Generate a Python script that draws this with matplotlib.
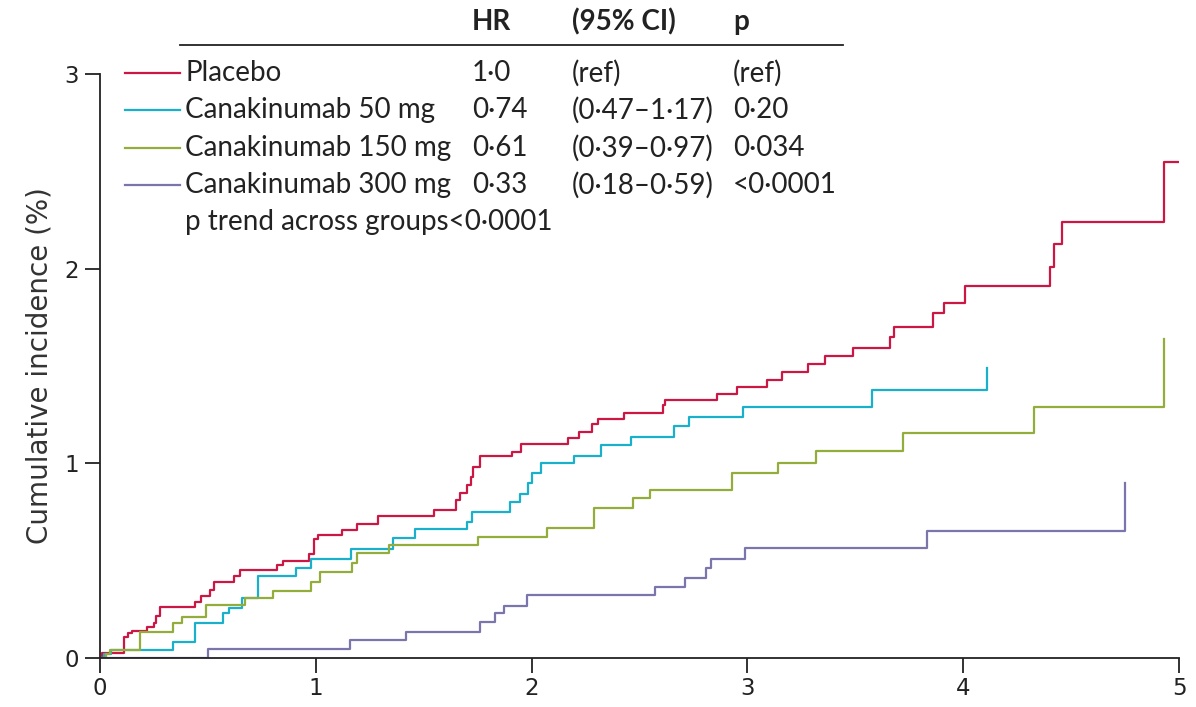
import matplotlib
matplotlib.use("Agg")
import matplotlib.pyplot as plt
from matplotlib.lines import Line2D

# years of follow-up / cumulative incidence (%) at each step
placebo_t = [0, 0.01, 0.11, 0.13, 0.15, 0.22, 0.25, 0.26, 0.28, 0.44, 0.47, 0.51, 0.53, 0.62, 0.65,
             0.82, 0.85, 0.97, 0.99, 1.01, 1.12, 1.19, 1.29, 1.55, 1.65, 1.67, 1.70, 1.72, 1.73, 1.76,
             1.91, 1.95, 2.17, 2.22, 2.28, 2.31, 2.43, 2.61, 2.62, 2.86, 2.95, 3.09, 3.16, 3.28, 3.36,
             3.49, 3.66, 3.68, 3.86, 3.91, 4.01, 4.40, 4.42, 4.46, 4.93, 5.0]
placebo_v = [0, 0.024, 0.11, 0.13, 0.14, 0.16, 0.18, 0.215, 0.26, 0.29, 0.32, 0.35, 0.39, 0.42, 0.45,
             0.48, 0.50, 0.535, 0.61, 0.63, 0.66, 0.69, 0.73, 0.76, 0.81, 0.85, 0.89, 0.93, 0.98, 1.04,
             1.06, 1.10, 1.13, 1.16, 1.20, 1.23, 1.26, 1.30, 1.325, 1.355, 1.39, 1.43, 1.47, 1.51, 1.55,
             1.595, 1.65, 1.70, 1.77, 1.825, 1.91, 2.01, 2.125, 2.24, 2.55, 2.55]

c50_t = [0, 0.02, 0.05, 0.34, 0.44, 0.57, 0.60, 0.66, 0.73, 0.91, 0.98, 1.165, 1.36, 1.46, 1.70,
         1.725, 1.90, 1.945, 1.985, 2.00, 2.045, 2.195, 2.32, 2.46, 2.66, 2.73, 2.98, 3.577, 4.11]
c50_v = [0, 0.02, 0.04, 0.084, 0.18, 0.23, 0.256, 0.31, 0.42, 0.46, 0.51, 0.558, 0.618, 0.663, 0.70,
         0.748, 0.80, 0.845, 0.90, 0.95, 1.00, 1.04, 1.094, 1.137, 1.19, 1.24, 1.29, 1.376, 1.49]

c150_t = [0, 0.03, 0.046, 0.185, 0.34, 0.38, 0.49, 0.67, 0.80, 0.98, 1.02, 1.17, 1.19, 1.34, 1.75,
          2.07, 2.29, 2.47, 2.55, 2.93, 3.14, 3.32, 3.72, 4.33, 4.93]
c150_v = [0, 0.02, 0.041, 0.132, 0.178, 0.21, 0.27, 0.31, 0.344, 0.39, 0.44, 0.486, 0.54, 0.58, 0.62,
          0.666, 0.769, 0.82, 0.863, 0.952, 1.003, 1.065, 1.154, 1.29, 1.64]

c300_t = [0, 0.50, 1.16, 1.42, 1.76, 1.83, 1.87, 1.98, 2.57, 2.71, 2.81, 2.83, 2.99, 3.83, 4.75]
c300_v = [0, 0.045, 0.092, 0.134, 0.187, 0.23, 0.267, 0.324, 0.363, 0.41, 0.46, 0.507, 0.563, 0.652, 0.90]

groups = ["Placebo", "Canakinumab 50 mg", "Canakinumab 150 mg", "Canakinumab 300 mg"]
hr = ["1·0", "0·74", "0·61", "0·33"]
ci = ["(ref)", "(0·47–1·17)", "(0·39–0·97)", "(0·18–0·59)"]
pval = ["(ref)", "0·20", "0·034", "<0·0001"]
colors = ["#cc1744", "#1ab0cb", "#93ad3c", "#7a76ab"]

plt.rcParams['font.family'] = ['Lato', 'DejaVu Sans']

W, H = 1196, 707
fig = plt.figure(figsize=(W / 100, H / 100), dpi=100)
ax = fig.add_axes([100 / W, 1 - 658 / H, (1179 - 100) / W, (658 - 74) / H])

series = [(placebo_t, placebo_v), (c50_t, c50_v), (c150_t, c150_v), (c300_t, c300_v)]
for (t, v), col in zip(series, colors):
    ax.plot(t, v, drawstyle="steps-post", color=col, lw=1.6)

ax.set_xlim(0, 5)
ax.set_ylim(0, 3)
ax.set_xticks(range(6))
ax.set_yticks(range(4))
ax.spines['top'].set_visible(False)
ax.spines['right'].set_visible(False)
for s in ['left', 'bottom']:
    ax.spines[s].set_linewidth(1.3)
    ax.spines[s].set_color('#222222')
ax.tick_params(axis='both', length=11, width=1.3, color='#222222', labelsize=16.5, labelcolor='#222222')
for lab in ax.get_xticklabels() + ax.get_yticklabels():
    lab.set_family('DejaVu Sans')
ax.tick_params(axis='y', pad=4)
ax.tick_params(axis='x', pad=3)
ax.set_ylabel("Cumulative incidence (%)", fontsize=20, color='#333333', labelpad=8,
              family='DejaVu Sans')


def fx(x):
    return x / W


def fy(y):
    return 1 - y / H


# table-style legend
fs = 20
fig.text(fx(472), fy(22), "HR", fontsize=fs, weight='bold', va='center', color='#222222')
fig.text(fx(572), fy(22), "(95% CI)", fontsize=fs, weight='bold', va='center', color='#222222')
fig.text(fx(733), fy(22), "p", fontsize=fs, weight='bold', va='center', color='#222222')
fig.add_artist(Line2D([fx(180), fx(843)], [fy(45), fy(45)], color='#222222', lw=1.3))

rows_y = [73, 110, 148, 185]
for i, y in enumerate(rows_y):
    fig.add_artist(Line2D([fx(125), fx(180)], [fy(y), fy(y)], color=colors[i], lw=1.6))
    fig.text(fx(185), fy(y), groups[i], fontsize=fs, va='center', color='#222222')
    fig.text(fx(472), fy(y), hr[i], fontsize=fs, va='center', color='#222222')
    fig.text(fx(572), fy(y), ci[i], fontsize=fs, va='center', color='#222222')
    fig.text(fx(733), fy(y), pval[i], fontsize=fs, va='center', color='#222222')
fig.text(fx(185), fy(222), "p trend across groups<0·0001", fontsize=fs, va='center', color='#222222')

fig.savefig("out.png", dpi=100)
